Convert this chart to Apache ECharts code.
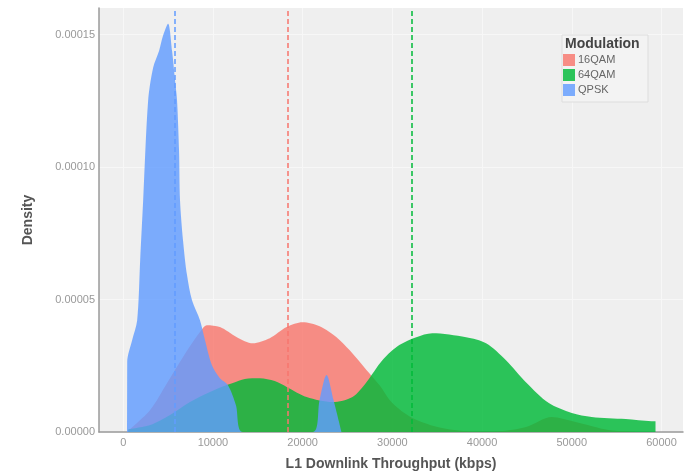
<!DOCTYPE html>
<html>
<head>
<meta charset="utf-8">
<script src="https://cdn.jsdelivr.net/npm/echarts@6/dist/echarts.min.js"></script>
<style>
html,body{margin:0;padding:0;background:#fff;}
#c{width:686px;height:476px;}
</style>
</head>
<body>
<div id="c"></div>
<script>
// ---- data ----
const seriesNames = ['16QAM', '64QAM', 'QPSK'];
const colors = ['#F8766D', '#00BA38', '#619CFF'];

const x16QAM = [556, 3000, 4889, 6667, 8556, 9333, 10778, 12667, 14444, 16333, 18222, 20000, 21889, 23778, 25222, 27111, 28556, 30000, 32222, 35556, 39333, 41889, 44889, 47778, 50444, 54111, 57778];
const d16QAM = [0.5e-6, 8.3e-6, 1.85e-5, 2.83e-5, 3.77e-5, 4.03e-5, 3.96e-5, 3.58e-5, 3.35e-5, 3.54e-5, 3.96e-5, 4.14e-5, 3.99e-5, 3.58e-5, 3.09e-5, 2.34e-5, 1.77e-5, 1.09e-5, 5.3e-6, 1.5e-6, 0.2e-6, 0.3e-6, 1.9e-6, 5.7e-6, 3.8e-6, 0.8e-6, 0];

const x64QAM = [556, 3000, 5222, 7444, 9667, 11556, 12222, 13556, 15222, 16889, 18222, 20444, 23333, 25556, 27111, 28889, 30778, 32667, 34444, 38222, 40444, 42667, 44889, 47444, 50000, 52222, 56000, 58889, 59333, 59340];
const d64QAM = [1e-6, 2.6e-6, 6.4e-6, 1.13e-5, 1.51e-5, 1.77e-5, 1.85e-5, 2.0e-5, 2.03e-5, 1.92e-5, 1.70e-5, 1.32e-5, 1.13e-5, 1.32e-5, 1.88e-5, 2.71e-5, 3.28e-5, 3.58e-5, 3.73e-5, 3.58e-5, 3.35e-5, 2.71e-5, 1.88e-5, 1.09e-5, 7.2e-6, 5.7e-6, 4.9e-6, 4.1e-6, 4.1e-6, 0];

const xQPSK = [440, 444, 1000, 1556, 1889, 2222, 2778, 3333, 4000, 4444, 5000, 5444, 5778, 6000, 6222, 6333, 6667, 7111, 7667, 8556, 9111, 9889, 10778, 11667, 12556, 13333, 21111, 21889, 22667, 23444, 24333];
const dQPSK = [0, 2.64e-5, 3.47e-5, 4.22e-5, 6.48e-5, 8.74e-5, 1.251e-4, 1.375e-4, 1.439e-4, 1.496e-4, 1.541e-4, 1.439e-4, 1.326e-4, 1.251e-4, 1.063e-4, 8.74e-5, 7.23e-5, 5.92e-5, 4.97e-5, 4.22e-5, 3.47e-5, 2.52e-5, 2.03e-5, 1.77e-5, 1.02e-5, 0, 0, 1.21e-5, 2.15e-5, 1.21e-5, 0];

const means = [18300, 32200, 5780]; // 16QAM, 64QAM, QPSK

const xTicks = [0, 10000, 20000, 30000, 40000, 50000, 60000];
const yTicks = [0, 0.00005, 0.0001, 0.00015];

// ---- chart ----
const FONT = 'Liberation Sans, Arial, Helvetica, sans-serif';
const zip = (xs, ys) => xs.map((x, i) => [x, ys[i]]);
const xs = [x16QAM, x64QAM, xQPSK];
const ds = [d16QAM, d64QAM, dQPSK];

const chart = echarts.init(document.getElementById('c'), null, {renderer: 'canvas'});

const series = seriesNames.map((name, i) => ({
  name: name,
  type: 'line',
  data: zip(xs[i], ds[i]),
  smooth: 0.3,
  showSymbol: false,
  symbol: 'none',
  color: colors[i],
  lineStyle: {width: 0},
  areaStyle: {color: colors[i], opacity: 0.82},
  silent: true,
  z: 2
}));

series[2].markLine = {
  silent: true,
  symbol: ['none', 'none'],
  label: {show: false},
  animation: false,
  data: means.map((m, i) => ({
    xAxis: m,
    lineStyle: {color: colors[i], type: [5, 3], width: 1.5, opacity: 1}
  }))
};

chart.setOption({
  animation: false,
  backgroundColor: '#ffffff',
  textStyle: {fontFamily: FONT},
  grid: {
    left: 99, right: 3, top: 8, bottom: 44,
    show: true, backgroundColor: '#efefef', borderWidth: 0
  },
  xAxis: {
    type: 'value',
    min: -2700, max: 62400,
    name: 'L1 Downlink Throughput (kbps)',
    nameLocation: 'middle',
    nameGap: 25,
    nameTextStyle: {fontSize: 14, fontWeight: 'bold', color: '#555', fontFamily: FONT},
    axisLine: {show: true, onZero: false, lineStyle: {color: '#9a9a9a', width: 1.5}},
    axisTick: {show: false, customValues: xTicks},
    axisLabel: {customValues: xTicks, color: '#999', fontSize: 11, margin: 5, fontFamily: FONT,
      formatter: v => String(Math.round(v))},
    splitLine: {show: true, lineStyle: {color: '#f7f7f7', width: 1}},
    minorSplitLine: {show: false}
  },
  yAxis: {
    type: 'value',
    min: 0, max: 0.00016,
    name: 'Density',
    nameLocation: 'middle',
    nameGap: 64,
    nameTextStyle: {fontSize: 14, fontWeight: 'bold', color: '#555', fontFamily: FONT},
    axisLine: {show: true, onZero: false, lineStyle: {color: '#9a9a9a', width: 1.5}},
    axisTick: {show: false, customValues: yTicks},
    axisLabel: {customValues: yTicks, color: '#999', fontSize: 11, margin: 4, fontFamily: FONT,
      formatter: v => v.toFixed(5)},
    splitLine: {show: true, lineStyle: {color: '#f7f7f7', width: 1}}
  },
  legend: {
    orient: 'vertical',
    left: 563, top: 54,
    itemWidth: 12, itemHeight: 12, itemGap: 3,
    icon: 'rect',
    padding: 0,
    z: 6,
    textStyle: {color: '#666', fontSize: 11, fontFamily: FONT, padding: [0, 0, 0, -2]},
    data: seriesNames.map((n, i) => ({name: n, itemStyle: {color: colors[i], opacity: 0.82}}))
  },
  graphic: [
    {type: 'rect', z: 4, shape: {x: 562, y: 35, width: 86, height: 67},
     style: {fill: '#f3f3f3', stroke: '#dddddd', lineWidth: 1}},
    {type: 'text', z: 7, x: 565, y: 37,
     style: {text: 'Modulation', fill: '#444', font: 'bold 14px ' + FONT}}
  ],
  series: series
});
</script>
</body>
</html>
